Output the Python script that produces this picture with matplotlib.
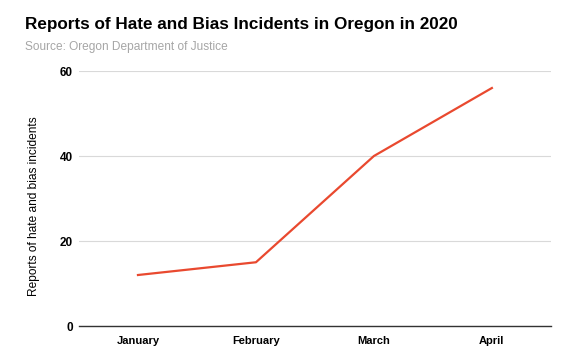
import matplotlib.pyplot as plt

plt.rcParams['font.family'] = ['Liberation Sans', 'DejaVu Sans']

# data
months = ['January', 'February', 'March', 'April']
reports = [12, 15, 40, 56]
y_ticks = [0, 20, 40, 60]

fig = plt.figure(figsize=(5.65, 3.59), dpi=100)
ax = fig.add_axes([0.1398, 0.0919, 0.8352, 0.7103])

ax.plot(range(len(months)), reports, color='#e9492f', linewidth=1.6)

ax.set_xlim(-0.5, len(months) - 0.5)
ax.set_ylim(0, 60)
ax.set_xticks(range(len(months)))
ax.set_xticklabels(months, fontweight='bold', fontsize=8)
ax.set_yticks(y_ticks)
ax.set_yticklabels([str(t) for t in y_ticks], fontweight='bold', fontsize=8.5)
ax.tick_params(length=0)
ax.tick_params(axis='y', pad=4.5)
ax.tick_params(axis='x', pad=7)

# gridlines, dark baseline
ax.grid(axis='y', color='#d9d9d9', linewidth=0.8)
ax.set_axisbelow(True)
for s in ['top', 'right', 'left']:
    ax.spines[s].set_visible(False)
ax.spines['bottom'].set_color('#333333')
ax.spines['bottom'].set_linewidth(1.0)

ax.set_ylabel('Reports of hate and bias incidents', fontsize=8.6)
ax.yaxis.set_label_coords(-0.083, 0.47)

fig.text(0.044, 0.932, 'Reports of Hate and Bias Incidents in Oregon in 2020',
         fontsize=12.3, fontweight='bold', va='center')
fig.text(0.044, 0.868, 'Source: Oregon Department of Justice',
         fontsize=8.6, color='#a6a6a6', va='center')

fig.savefig('out.png', dpi=100)
